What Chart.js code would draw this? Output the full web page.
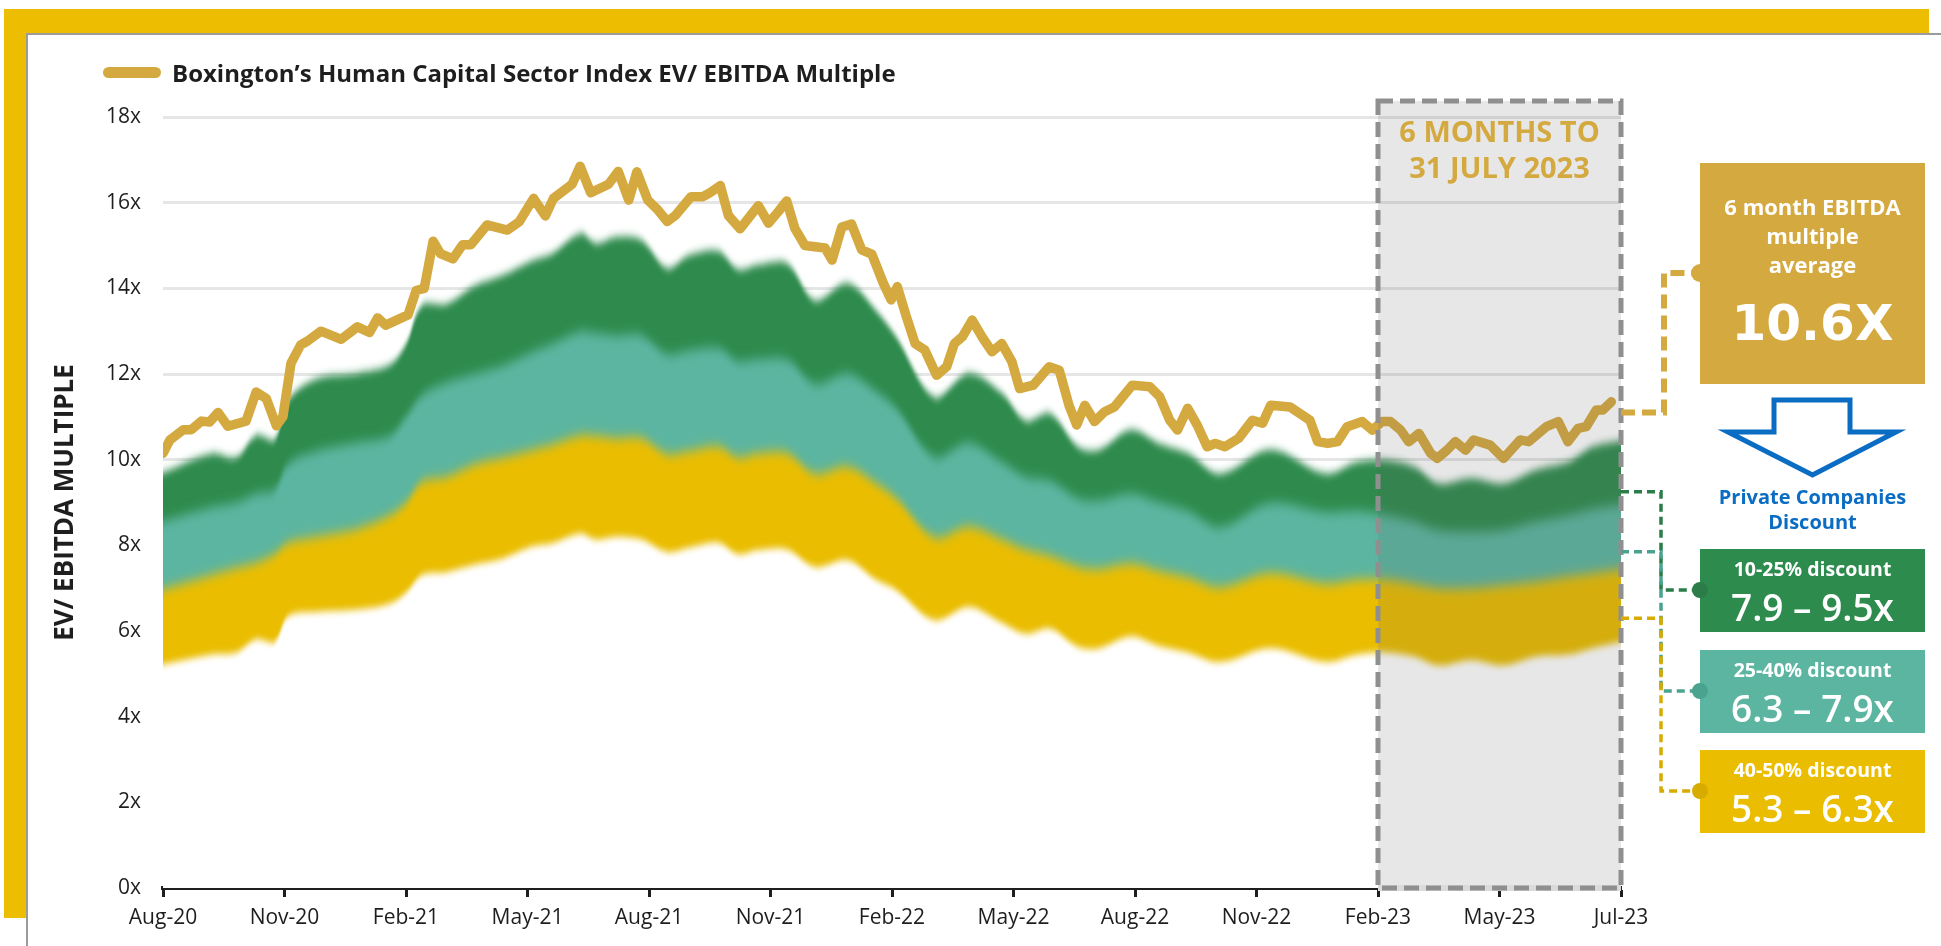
<!DOCTYPE html>
<html>
<head>
<meta charset="utf-8">
<title>Boxington Human Capital Sector Index EV/EBITDA</title>
<script src="https://cdn.jsdelivr.net/npm/chart.js@4.4.1/dist/chart.umd.min.js"></script>
<style>
  html, body { margin: 0; padding: 0; background: #fff; }
  #frame { position: relative; width: 1941px; height: 946px; overflow: hidden; }
  .bar { position: absolute; background: #ecbd00; }
  .rule { position: absolute; background: #9b9b9b; }
  #chart-box { position: absolute; left: 0; top: 0; width: 1941px; height: 946px; }
</style>
</head>
<body>
<!-- soft edges for the discount bands: vertical blur only so the plot edges stay sharp -->
<svg width="0" height="0" style="position:absolute">
  <defs>
    <filter id="soft3" filterUnits="userSpaceOnUse" x="-200" y="-200" width="2400" height="1400"><feGaussianBlur stdDeviation="0 3.5"/></filter>
    <filter id="soft4" filterUnits="userSpaceOnUse" x="-200" y="-200" width="2400" height="1400"><feGaussianBlur stdDeviation="0 4.5"/></filter>
    <filter id="soft6" filterUnits="userSpaceOnUse" x="-200" y="-200" width="2400" height="1400"><feGaussianBlur stdDeviation="0 6"/></filter>
  </defs>
</svg>
<div id="frame">
  <div class="bar" style="left:4px;top:9px;width:1925px;height:24px"></div>
  <div class="bar" style="left:4px;top:9px;width:22px;height:909px"></div>
  <div class="rule" style="left:26px;top:33px;width:1915px;height:2px"></div>
  <div class="rule" style="left:26px;top:33px;width:2px;height:913px"></div>
  <div id="chart-box"><canvas id="multipleChart"></canvas></div>
</div>
<script>
// x axis = months since 1 Aug 2020, last tick is 31 July 2023
var tickMonths = [0, 3, 6, 9, 12, 15, 18, 21, 24, 27, 30, 33, 36];
var tickLabels = ["Aug-20", "Nov-20", "Feb-21", "May-21", "Aug-21", "Nov-21", "Feb-22",
  "May-22", "Aug-22", "Nov-22", "Feb-23", "May-23", "Jul-23"];

// index EV/EBITDA multiple
var indexMonths = [0, 0.17, 0.5, 0.7, 0.95, 1.15, 1.36, 1.6, 2.05, 2.3, 2.55, 2.8, 2.96, 3.16, 3.4,
  3.57, 3.9, 4.4, 4.8, 5.1, 5.3, 5.5, 6.05, 6.25, 6.45, 6.67, 6.85, 7.16, 7.4, 7.6, 8.0, 8.5, 8.8,
  9.15, 9.44, 9.64, 10.1, 10.3, 10.56, 11.0, 11.24, 11.5, 11.7, 11.97, 12.2, 12.45, 12.65, 13.04,
  13.33, 13.5, 13.76, 13.96, 14.25, 14.7, 14.95, 15.2, 15.4, 15.6, 15.85, 16.1, 16.35, 16.52,
  16.76, 17.0, 17.25, 17.5, 17.79, 17.98, 18.13, 18.35, 18.57, 18.81, 19.1, 19.35, 19.54, 19.74,
  19.98, 20.22, 20.47, 20.71, 20.96, 21.15, 21.49, 21.88, 22.13, 22.37, 22.56, 22.76, 23.0,
  23.25, 23.49, 23.93, 24.37, 24.61, 24.86, 25.05, 25.3, 25.54, 25.78, 25.98, 26.22, 26.56,
  26.9, 27.15, 27.35, 27.83, 28.32, 28.51, 28.76, 29.0, 29.24, 29.61, 29.86, 30.1, 30.31, 30.56,
  30.76, 31.01, 31.3, 31.46, 31.7, 31.91, 32.16, 32.36, 32.77, 33.1, 33.51, 33.72, 34.16, 34.45,
  34.69, 34.94, 35.14, 35.39, 35.55, 35.76];
var indexValues = [10.15, 10.46, 10.7, 10.7, 10.9, 10.88, 11.1, 10.78, 10.9, 11.58, 11.43, 10.79,
  11.0, 12.25, 12.68, 12.77, 13.0, 12.81, 13.1, 12.97, 13.31, 13.14, 13.38, 13.95, 14.0, 15.1,
  14.81, 14.69, 15.02, 15.02, 15.48, 15.36, 15.56, 16.1, 15.69, 16.1, 16.43, 16.85, 16.23, 16.43,
  16.73, 16.06, 16.72, 16.06, 15.85, 15.56, 15.7, 16.14, 16.14, 16.23, 16.4, 15.7, 15.39, 15.93,
  15.52, 15.8, 16.04, 15.4, 15.0, 14.97, 14.94, 14.66, 15.43, 15.5, 14.9, 14.8, 14.11, 13.73,
  14.04, 13.35, 12.71, 12.56, 11.97, 12.17, 12.71, 12.87, 13.26, 12.87, 12.52, 12.71, 12.29,
  11.66, 11.74, 12.17, 12.09, 11.27, 10.81, 11.27, 10.89, 11.12, 11.23, 11.74, 11.7, 11.47,
  10.92, 10.69, 11.2, 10.8, 10.3, 10.38, 10.3, 10.5, 10.92, 10.85, 11.27, 11.23, 10.92, 10.42,
  10.38, 10.42, 10.77, 10.89, 10.69, 10.89, 10.89, 10.69, 10.42, 10.61, 10.15, 10.03, 10.22,
  10.42, 10.22, 10.46, 10.34, 10.03, 10.46, 10.42, 10.77, 10.89, 10.42, 10.73, 10.77, 11.16,
  11.16, 11.35];

// private company discount bands (upper edges)
var bandMonths = [0, 1.2, 1.8, 2.3, 2.75, 3.1, 3.8, 4.8, 5.6, 6.0, 6.4, 7.0, 7.7, 8.4, 9.1, 9.6,
  10.3, 10.7, 11.2, 11.8, 12.45, 13.0, 13.7, 14.2, 14.7, 15.4, 16.1, 16.9, 17.6, 18.1, 19.05,
  19.9, 20.7, 21.3, 21.9, 22.6, 23.1, 23.9, 24.6, 25.3, 26.1, 27.35, 28.7, 29.5, 30.2, 30.9,
  31.5, 32.3, 33.1, 33.9, 34.7, 35.3, 36];
var discount10 = [9.7, 10.14, 10.06, 10.56, 10.48, 11.4, 11.89, 12.02, 12.22, 12.7, 13.6, 13.64,
  14.06, 14.31, 14.64, 14.81, 15.27, 15.06, 15.2, 15.13, 14.48, 14.77, 14.87, 14.45, 14.55,
  14.58, 13.73, 14.11, 13.49, 12.87, 11.47, 12.01, 11.56, 10.92, 11.07, 10.3, 10.23, 10.69,
  10.38, 10.15, 9.68, 10.23, 9.68, 9.95, 9.99, 9.83, 9.45, 9.56, 9.45, 9.76, 9.95, 10.3, 10.45];
var discount25 = [8.56, 8.89, 9.0, 9.2, 9.31, 9.9, 10.2, 10.4, 10.56, 11.0, 11.5, 11.8, 12.0,
  12.2, 12.5, 12.7, 12.98, 12.95, 12.9, 12.9, 12.47, 12.55, 12.6, 12.31, 12.35, 12.33, 11.78,
  12.0, 11.6, 11.2, 10.07, 10.38, 9.95, 9.6, 9.5, 9.1, 9.05, 9.2, 9.0, 8.8, 8.43, 8.98, 8.78,
  8.8, 8.7, 8.55, 8.35, 8.32, 8.36, 8.55, 8.7, 8.85, 8.95];
var discount40 = [6.97, 7.31, 7.47, 7.6, 7.8, 8.06, 8.2, 8.39, 8.7, 9.0, 9.48, 9.6, 9.89, 10.05,
  10.22, 10.35, 10.56, 10.55, 10.5, 10.5, 10.14, 10.2, 10.3, 10.06, 10.15, 10.15, 9.68, 9.83,
  9.45, 9.1, 8.2, 8.43, 8.15, 7.9, 7.75, 7.5, 7.45, 7.57, 7.4, 7.25, 7.03, 7.35, 7.11, 7.2,
  7.2, 7.1, 7.0, 7.0, 7.07, 7.15, 7.27, 7.35, 7.45];
var discount50 = [5.22, 5.45, 5.5, 5.8, 5.75, 6.35, 6.45, 6.5, 6.64, 6.9, 7.31, 7.38, 7.55, 7.7,
  7.97, 8.05, 8.27, 8.14, 8.2, 8.14, 7.85, 7.95, 8.06, 7.8, 7.89, 7.9, 7.5, 7.65, 7.2, 6.96,
  6.26, 6.56, 6.2, 5.94, 6.05, 5.63, 5.6, 5.87, 5.65, 5.5, 5.28, 5.6, 5.28, 5.45, 5.5, 5.4,
  5.2, 5.32, 5.2, 5.4, 5.45, 5.6, 5.75];

// six month window and the call-outs on the right
var windowStart = 30;
var windowEnd = 36;
var windowTitle = ["6 MONTHS TO", "31 JULY 2023"];
var averageTitle = ["6 month EBITDA", "multiple", "average"];
var averageValue = "10.6X";
var averageAnchor = 11.1;
var discountTitle = ["Private Companies", "Discount"];
var discountNames = ["10-25% discount", "25-40% discount", "40-50% discount"];
var discountRanges = ["7.9 \u2013 9.5x", "6.3 \u2013 7.9x", "5.3 \u2013 6.3x"];
var discountAnchors = [9.25, 7.85, 6.3];

var gold = "#d4a940";
var bandColors = ["#2e8b4e", "#5cb5a0", "#eabd00"];
var connectorColors = ["#2b7c48", "#4aa38f", "#d8ab00"];

function points(months, values) {
  return months.map(function (m, i) { return { x: m, y: values[i] }; });
}

// the filler draws each dataset's fill in beforeDatasetDraw, so the filter for the
// next dataset is set at the end of the previous one
function softFilter(chart, i) {
  var ds = chart.data.datasets[i];
  return ds && ds.soft ? "url(#" + ds.soft + ")" : "none";
}
var softBands = {
  id: "softBands",
  beforeDatasetsDraw: function (chart) {
    chart.ctx.filter = softFilter(chart, chart.data.datasets.length - 1);
  },
  afterDatasetDraw: function (chart, args) {
    chart.ctx.filter = softFilter(chart, args.index - 1);
  },
  afterDatasetsDraw: function (chart) {
    chart.ctx.filter = "none";
  },
};

function centerText(ctx, text, x, y, font, color) {
  ctx.font = font;
  ctx.fillStyle = color;
  ctx.textAlign = "center";
  ctx.textBaseline = "alphabetic";
  ctx.fillText(text, x, y);
}

function dashedPath(ctx, pts, color, width, dash) {
  ctx.save();
  ctx.strokeStyle = color;
  ctx.lineWidth = width;
  ctx.setLineDash(dash);
  ctx.beginPath();
  ctx.moveTo(pts[0][0], pts[0][1]);
  for (var i = 1; i < pts.length; i++) ctx.lineTo(pts[i][0], pts[i][1]);
  ctx.stroke();
  ctx.restore();
}

var callouts = {
  id: "callouts",
  afterDraw: function (chart) {
    var ctx = chart.ctx;
    var area = chart.chartArea;
    var x = chart.scales.x;
    var y = chart.scales.y;
    ctx.save();

    // legend
    ctx.fillStyle = gold;
    ctx.beginPath();
    ctx.roundRect(103, 67, 58, 11, 5.5);
    ctx.fill();
    ctx.font = "bold 24px 'Open Sans'";
    ctx.fillStyle = "#1e1e1e";
    ctx.textAlign = "left";
    ctx.textBaseline = "alphabetic";
    ctx.fillText(chart.data.datasets[0].label, 172, 82);

    // six month window
    var x0 = x.getPixelForValue(windowStart);
    var x1 = x.getPixelForValue(windowEnd);
    var top = 101;
    ctx.fillStyle = "rgba(96, 96, 96, 0.15)";
    ctx.fillRect(x0, top, x1 - x0, area.bottom - top);
    ctx.strokeStyle = "#dadada";
    ctx.lineWidth = 6;
    ctx.beginPath();
    ctx.moveTo(x0, area.bottom);
    ctx.lineTo(x1, area.bottom);
    ctx.stroke();
    ctx.save();
    ctx.strokeStyle = "#8f8f8f";
    ctx.lineWidth = 5;
    ctx.setLineDash([15, 7]);
    ctx.strokeRect(x0, top, x1 - x0, area.bottom - top);
    ctx.restore();
    var cx = (x0 + x1) / 2;
    centerText(ctx, windowTitle[0], cx, 142, "bold 29px 'Open Sans'", gold);
    centerText(ctx, windowTitle[1], cx, 178, "bold 29px 'Open Sans'", gold);

    // connectors
    var boxLeft = 1700, boxWidth = 225, boxMid = boxLeft + boxWidth / 2;
    var ay = y.getPixelForValue(averageAnchor);
    dashedPath(ctx, [[area.right, ay], [1664, ay], [1664, 273], [boxLeft, 273]], gold, 6, [14, 7]);
    var boxTops = [549, 650, 750];
    for (var i = 0; i < 3; i++) {
      var py = y.getPixelForValue(discountAnchors[i]);
      var dy = boxTops[i] + 41;
      dashedPath(ctx, [[area.right, py], [1661, py], [1661, dy], [boxLeft, dy]],
        connectorColors[i], 3.5, [8, 5]);
    }

    // average box
    ctx.fillStyle = gold;
    ctx.fillRect(boxLeft, 163, boxWidth, 221);
    ctx.beginPath();
    ctx.arc(boxLeft, 273, 9, 0, Math.PI * 2);
    ctx.fill();
    centerText(ctx, averageTitle[0], boxMid, 215, "bold 22px 'Open Sans'", "#fff");
    centerText(ctx, averageTitle[1], boxMid, 244, "bold 22px 'Open Sans'", "#fff");
    centerText(ctx, averageTitle[2], boxMid, 273, "bold 22px 'Open Sans'", "#fff");
    centerText(ctx, averageValue, boxMid, 340, "bold 50px 'DejaVu Sans'", "#fff");

    // arrow
    ctx.beginPath();
    ctx.moveTo(1774, 400);
    ctx.lineTo(1850, 400);
    ctx.lineTo(1850, 432);
    ctx.lineTo(1896, 432);
    ctx.lineTo(boxMid, 475);
    ctx.lineTo(1728, 432);
    ctx.lineTo(1774, 432);
    ctx.closePath();
    ctx.fillStyle = "#fff";
    ctx.fill();
    ctx.strokeStyle = "#0a6cc2";
    ctx.lineWidth = 5;
    ctx.stroke();
    centerText(ctx, discountTitle[0], boxMid, 504, "bold 20px 'Open Sans'", "#0a6cc2");
    centerText(ctx, discountTitle[1], boxMid, 529, "bold 20px 'Open Sans'", "#0a6cc2");

    // discount boxes
    for (var j = 0; j < 3; j++) {
      var t = boxTops[j];
      ctx.fillStyle = bandColors[j];
      ctx.fillRect(boxLeft, t, boxWidth, 83);
      ctx.fillStyle = connectorColors[j];
      ctx.beginPath();
      ctx.arc(boxLeft, t + 41, 8, 0, Math.PI * 2);
      ctx.fill();
      centerText(ctx, discountNames[j], boxMid, t + 27, "bold 19.5px 'Open Sans'", "#fff");
      centerText(ctx, discountRanges[j], boxMid, t + 72, "600 37px 'Open Sans'", "#fff");
    }
    ctx.restore();
  },
};

var context = document.getElementById("multipleChart").getContext("2d");
Chart.defaults.font.family = "'Open Sans', sans-serif";
Chart.defaults.color = "#1e1e1e";

var multipleChart = new Chart(context, {
  type: "line",
  data: {
    datasets: [
      {
        label: "Boxington\u2019s Human Capital Sector Index EV/ EBITDA Multiple",
        data: points(indexMonths, indexValues),
        borderColor: gold,
        borderWidth: 9.5,
        borderJoinStyle: "round",
        borderCapStyle: "round",
        tension: 0,
        pointRadius: 0,
        fill: false,
      },
      {
        // white below the 50% discount line hides the grid
        label: "50% discount",
        data: points(bandMonths, discount50),
        backgroundColor: "#ffffff",
        borderWidth: 0,
        pointRadius: 0,
        tension: 0.35,
        fill: { value: -3 },
        soft: "soft3",
      },
      {
        label: "40-50% discount",
        data: points(bandMonths, discount40),
        backgroundColor: bandColors[2],
        borderWidth: 0,
        pointRadius: 0,
        tension: 0.35,
        fill: { value: -3 },
        soft: "soft6",
      },
      {
        label: "25-40% discount",
        data: points(bandMonths, discount25),
        backgroundColor: bandColors[1],
        borderWidth: 0,
        pointRadius: 0,
        tension: 0.35,
        fill: { value: -3 },
        soft: "soft6",
      },
      {
        label: "10-25% discount",
        data: points(bandMonths, discount10),
        backgroundColor: bandColors[0],
        borderWidth: 0,
        pointRadius: 0,
        tension: 0.35,
        fill: { value: -3 },
        soft: "soft4",
      },
    ],
  },
  options: {
    responsive: true,
    maintainAspectRatio: false,
    animation: false,
    events: [],
    layout: { padding: { left: 40, right: 320, top: 117, bottom: 0 } },
    plugins: {
      legend: { display: false },
      tooltip: { enabled: false },
    },
    scales: {
      x: {
        type: "linear",
        min: 0,
        max: 36,
        afterBuildTicks: function (scale) {
          scale.ticks = tickMonths.map(function (m) { return { value: m }; });
        },
        afterFit: function (scale) { scale.height = 58; },
        ticks: {
          autoSkip: false,
          maxRotation: 0,
          padding: 8,
          font: { size: 21 },
          color: "#1e1e1e",
          callback: function (v) { return tickLabels[tickMonths.indexOf(v)]; },
        },
        grid: {
          drawOnChartArea: false,
          drawTicks: true,
          tickLength: 9,
          tickWidth: 3,
          tickColor: "#1e1e1e",
        },
        border: { display: true, color: "#1e1e1e", width: 4 },
      },
      y: {
        min: 0,
        max: 18,
        afterFit: function (scale) { scale.width = 123; },
        ticks: {
          stepSize: 2,
          padding: 22,
          font: { size: 21 },
          color: "#1e1e1e",
          callback: function (v) { return v + "x"; },
        },
        grid: { color: "#e6e6e6", lineWidth: 3, drawTicks: false },
        border: { display: false },
        title: {
          display: true,
          text: "EV/ EBITDA MULTIPLE",
          font: { size: 26, weight: "bold" },
          color: "#1e1e1e",
          padding: { top: 10, bottom: 0 },
        },
      },
    },
  },
  plugins: [softBands, callouts],
});
</script>
</body>
</html>
